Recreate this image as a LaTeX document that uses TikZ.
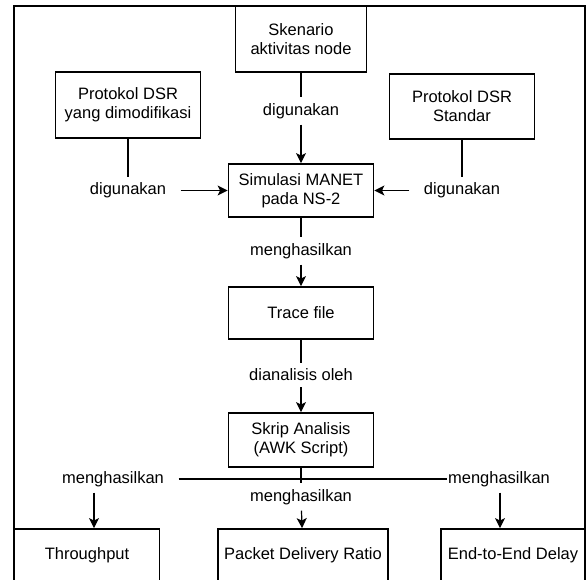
\documentclass[tikz,border=0pt]{standalone}
\usepackage{fontspec}
\setmainfont{Liberation Sans}
\usetikzlibrary{arrows.meta}

\tikzset{
  box/.style={draw, line width=0.9pt, align=center, minimum width=72.5pt,
    minimum height=33pt, inner sep=1pt, font=\fontsize{8.25}{9.5}\selectfont},
  lbl/.style={fill=white, inner xsep=7pt, inner ysep=2.7pt,
    font=\fontsize{8.25}{9.5}\selectfont},
  arr/.style={-{Stealth[length=5pt,width=5pt,inset=1.2pt]}},
}

\begin{document}
\begin{tikzpicture}[x=0.5pt, y=-0.5pt, line width=0.6pt]

  \clip (0,0) rectangle (587,579);
  \draw[line width=0.8pt] (14,6) rectangle (585,600);

  % Boxes
  \node[box, minimum width=65.5pt] (skn) at (301,39) {Skenario\\aktivitas node};
  \node[box] (dsrm) at (128,105) {Protokol DSR\\yang dimodifikasi};
  \node[box, minimum height=32.5pt] (dsrs) at (462,106.5) {Protokol DSR\\Standar};
  \node[box, minimum height=26.5pt] (sim) at (301,190.5) {Simulasi MANET\\pada NS-2};
  \node[box, minimum height=26pt] (trc) at (301,313) {Trace file};
  \node[box, minimum height=27pt] (skr) at (301,440) {Skrip Analisis\\(AWK Script)};
  \node[box, minimum height=26pt] (thr) at (87,555) {Throughput};
  \node[box, minimum width=85pt, minimum height=26pt] (pdr) at (303,555) {Packet Delivery Ratio};
  \node[box, minimum width=72pt, minimum height=26pt] (e2e) at (513,555) {End-to-End Delay};

  % Edge labels
  \node[lbl] (l1) at (301,111) {digunakan};
  \node[lbl] (lL) at (dsrm |- sim) {digunakan};
  \node[lbl] (lR) at (dsrs |- sim) {digunakan};
  \node[lbl] (l2) at (301,251) {menghasilkan};
  \node[lbl] (l3) at (301,375) {dianalisis oleh};
  \node[lbl] (hL) at (113,479) {menghasilkan};
  \node[lbl, inner xsep=0.5pt] (hR) at (499,479) {menghasilkan};
  \node[lbl] (l4) at (301,497) {menghasilkan};
  \coordinate (cL) at (94,479);
  \coordinate (cR) at (500,479);

  \draw (skn) -- (l1);
  \draw[arr] (l1) -- (sim);
  \draw (dsrm) -- (lL);
  \draw[arr] (lL) -- (sim);
  \draw (dsrs) -- (lR);
  \draw[arr] (lR) -- (sim);
  \draw (sim) -- (l2);
  \draw[arr] (l2) -- (trc);
  \draw (trc) -- (l3);
  \draw[arr] (l3) -- (skr);

  % Outputs
  \draw (skr) -- (l4);
  \draw (hL) -- (hR);
  \draw[arr] (l4) -- (pdr);
  \draw[arr] (hL.south -| cL) -- (thr.north -| cL);
  \draw[arr] (hR.south -| cR) -- (e2e.north -| cR);

\end{tikzpicture}
\end{document}
